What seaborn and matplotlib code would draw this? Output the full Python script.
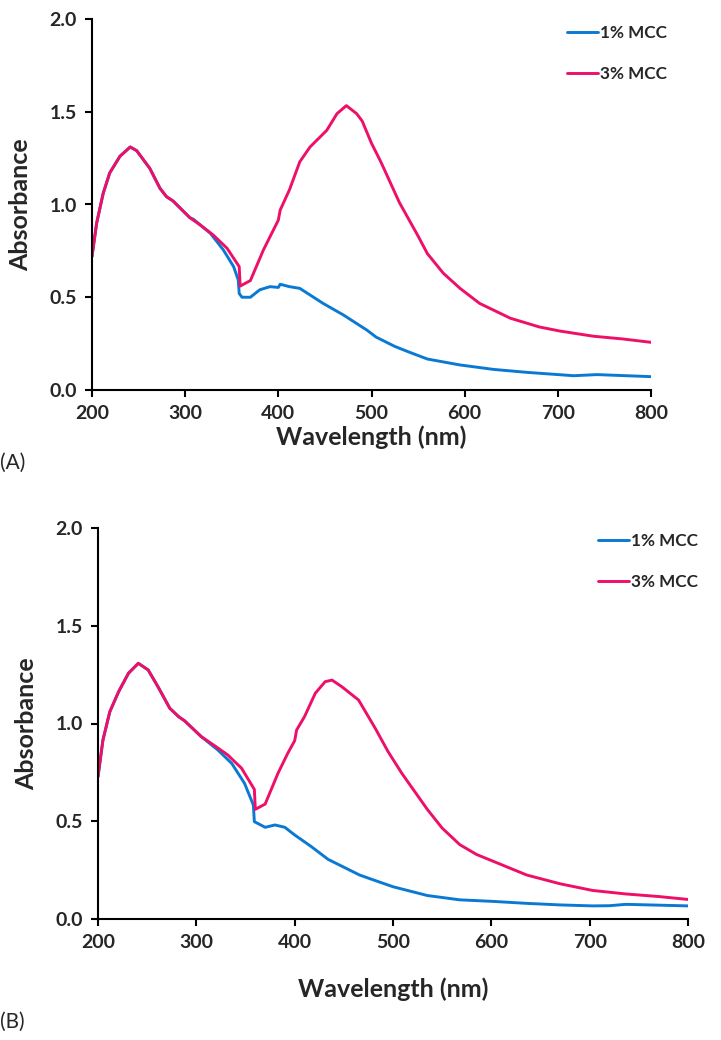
import numpy as np
import pandas as pd
import matplotlib
matplotlib.use("Agg")
import matplotlib.pyplot as plt
import seaborn as sns

sns.set_style("ticks")
plt.rcParams['font.family'] = ['Lato', 'DejaVu Sans']

# ===== data =====
# (A)
wl_a_1 = [200, 205, 212, 219, 230, 241, 248, 262, 273, 280, 287, 305, 309, 327, 341,
          352, 357, 358, 361, 370, 380, 391, 400, 402, 412, 423, 448, 470, 495, 505,
          525, 540, 560, 595, 631, 667, 717, 742, 800]
abs_a_1 = [0.72, 0.90, 1.06, 1.17, 1.26, 1.31, 1.29, 1.195, 1.087, 1.042, 1.019, 0.929, 0.92, 0.845, 0.755,
           0.665, 0.593, 0.52, 0.50, 0.50, 0.54, 0.557, 0.553, 0.57, 0.557, 0.548, 0.467, 0.404, 0.323, 0.285,
           0.235, 0.205, 0.167, 0.135, 0.111, 0.095, 0.077, 0.083, 0.072]

wl_a_3 = [200, 205, 212, 219, 230, 241, 248, 262, 273, 280, 287, 305, 316, 330, 345,
          358, 359, 370, 384, 400, 402, 412, 423, 434, 445, 452, 463, 473, 484, 490,
          500, 510, 520, 530, 540, 550, 560, 577, 595, 616, 649, 680, 702, 738, 770,
          800]
abs_a_3 = [0.72, 0.90, 1.06, 1.17, 1.26, 1.31, 1.29, 1.195, 1.087, 1.042, 1.019, 0.929, 0.89, 0.836, 0.764,
           0.665, 0.56, 0.59, 0.755, 0.916, 0.97, 1.08, 1.23, 1.31, 1.365, 1.40, 1.49, 1.533, 1.49, 1.45,
           1.33, 1.23, 1.12, 1.01, 0.92, 0.83, 0.735, 0.63, 0.548, 0.467, 0.387, 0.34, 0.318, 0.29, 0.275,
           0.257]

# (B)
wl_b_1 = [200, 205, 212, 221, 231, 241, 251, 261, 273, 282, 288, 305, 322, 336, 349,
          358, 359, 370, 380, 390, 400, 417, 434, 466, 480, 500, 535, 568, 602, 636,
          670, 703, 720, 737, 800]
abs_b_1 = [0.728, 0.915, 1.06, 1.163, 1.257, 1.308, 1.274, 1.188, 1.078, 1.035, 1.014, 0.933, 0.864, 0.796, 0.694,
           0.583, 0.498, 0.469, 0.481, 0.469, 0.43, 0.37, 0.305, 0.225, 0.20, 0.165, 0.12, 0.098, 0.09, 0.08,
           0.072, 0.067, 0.068, 0.075, 0.067]

wl_b_3 = [200, 205, 212, 221, 231, 241, 251, 261, 273, 282, 288, 305, 319, 332, 346,
          359, 360, 370, 383, 393, 400, 402, 410, 421, 431, 438, 448, 465, 482, 495,
          509, 535, 550, 568, 585, 602, 636, 670, 703, 737, 770, 800]
abs_b_3 = [0.728, 0.915, 1.06, 1.163, 1.257, 1.308, 1.274, 1.188, 1.078, 1.035, 1.014, 0.933, 0.885, 0.839, 0.771,
           0.663, 0.561, 0.588, 0.745, 0.848, 0.912, 0.967, 1.035, 1.155, 1.214, 1.222, 1.188, 1.12, 0.975, 0.856,
           0.745, 0.56, 0.465, 0.38, 0.33, 0.295, 0.225, 0.18, 0.146, 0.128, 0.115, 0.10]

labels = ["1% MCC", "3% MCC"]
colors = {"1% MCC": "#0a79d4", "3% MCC": "#ee0f68"}


def make_df(wl1, a1, wl3, a3):
    d1 = pd.DataFrame({"wl": wl1, "abs": a1, "sample": labels[0]})
    d3 = pd.DataFrame({"wl": wl3, "abs": a3, "sample": labels[1]})
    return pd.concat([d1, d3], ignore_index=True)


df_a = make_df(wl_a_1, abs_a_1, wl_a_3, abs_a_3)
df_b = make_df(wl_b_1, abs_b_1, wl_b_3, abs_b_3)

fig = plt.figure(figsize=(7.21, 10.40), dpi=100)
ax_a = fig.add_axes([92 / 721, 1 - 390 / 1040, (651 - 92) / 721, (390 - 19) / 1040])
ax_b = fig.add_axes([98 / 721, 1 - 919 / 1040, (688 - 98) / 721, (919 - 528) / 1040])

# panel, data, xlabel pad, legend anchor (figure px: handle start x, top y)
panels = [(ax_a, df_a, 2, (567, 25)), (ax_b, df_b, 19, (598, 533))]

for ax, df, xpad, (lx, ly) in panels:
    sns.lineplot(data=df, x="wl", y="abs", hue="sample", palette=colors,
                 estimator=None, sort=True, linewidth=2.1, ax=ax)
    ax.set_xlim(200, 800)
    ax.set_ylim(0, 2.0)
    ax.set_xticks(range(200, 801, 100))
    ax.set_yticks(np.arange(0, 2.01, 0.5))
    ax.set_yticklabels([f"{v:.1f}" for v in np.arange(0, 2.01, 0.5)])
    ax.tick_params(axis="both", direction="out", length=5, width=1.5,
                   labelsize=14, color="black", pad=6)
    for lab in ax.get_xticklabels() + ax.get_yticklabels():
        lab.set_fontweight("bold")
    for s in ["top", "right"]:
        ax.spines[s].set_visible(False)
    for s in ["left", "bottom"]:
        ax.spines[s].set_linewidth(1.5)
        ax.spines[s].set_color("black")
    ax.set_xlabel("Wavelength (nm)", fontsize=18, fontweight="bold", labelpad=xpad)
    ax.set_ylabel("Absorbance", fontsize=18, fontweight="bold", labelpad=12)
    ax.legend(loc="upper left", bbox_to_anchor=(lx / 721, 1 - ly / 1040),
              bbox_transform=fig.transFigure, frameon=False,
              borderpad=0, borderaxespad=0,
              handlelength=1.8, handletextpad=0.12, labelspacing=1.45,
              prop={"weight": "bold", "size": 12.3})

fig.text(0.0, 1 - 463 / 1040, "(A)", fontsize=15, va="center", ha="left")
fig.text(0.0, 1 - 1022 / 1040, "(B)", fontsize=15, va="center", ha="left")

fig.savefig("out.png", dpi=100)
